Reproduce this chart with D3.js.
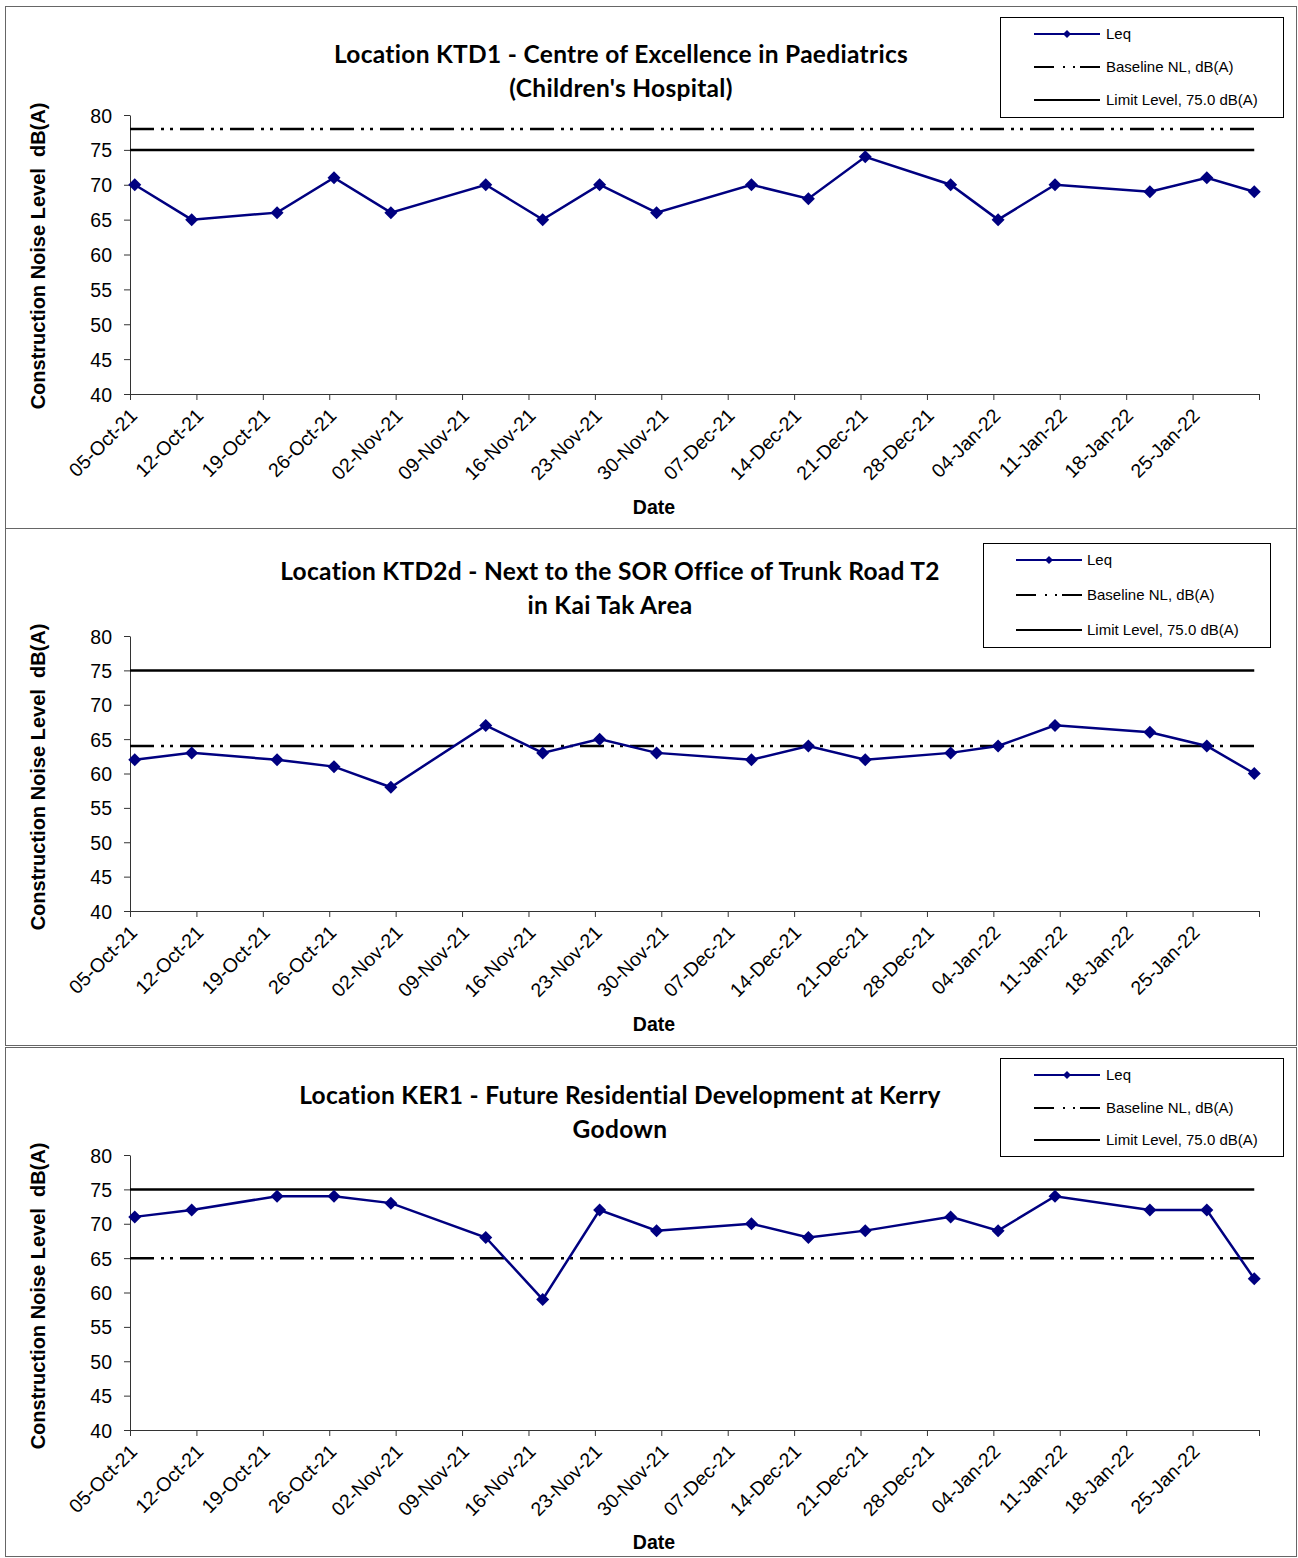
<!DOCTYPE html>
<html>
<head>
<meta charset="utf-8">
<script src="https://cdn.jsdelivr.net/npm/d3@7"></script>
<style>
  body { margin: 0; background: #fff; }
  text { font-family: "Liberation Sans", Arial, sans-serif; fill: #000; }
  .title { font-family: Lato, "Open Sans", sans-serif; font-weight: bold; font-size: 24.5px; letter-spacing: 0.3px; }
  .axis text { font-size: 19.5px; }
  .axis path, .axis line { stroke: #333; }
  .ylab { font-weight: bold; font-size: 20px; }
  .xlab { font-weight: bold; font-size: 19.5px; }
  .legend text { font-size: 15px; }
</style>
</head>
<body>
<div id="chart"></div>
<script>
// measurement dates (same for all three locations)
var surveyDates = ["05-Oct-21", "11-Oct-21", "20-Oct-21", "26-Oct-21", "01-Nov-21", "11-Nov-21",
  "17-Nov-21", "23-Nov-21", "29-Nov-21", "09-Dec-21", "15-Dec-21", "21-Dec-21",
  "30-Dec-21", "04-Jan-22", "10-Jan-22", "20-Jan-22", "26-Jan-22", "31-Jan-22"];

// Leq, dB(A)
var leqKTD1 = [70, 65, 66, 71, 66, 70, 65, 70, 66, 70, 68, 74, 70, 65, 70, 69, 71, 69];
var leqKTD2d = [62, 63, 62, 61, 58, 67, 63, 65, 63, 62, 64, 62, 63, 64, 67, 66, 64, 60];
var leqKER1 = [71, 72, 74, 74, 73, 68, 59, 72, 69, 70, 68, 69, 71, 69, 74, 72, 72, 62];

var baselineKTD1 = 78;
var baselineKTD2d = 64;
var baselineKER1 = 65;
var limitLevel = 75;

var xTickLabels = ["05-Oct-21", "12-Oct-21", "19-Oct-21", "26-Oct-21", "02-Nov-21", "09-Nov-21",
  "16-Nov-21", "23-Nov-21", "30-Nov-21", "07-Dec-21", "14-Dec-21", "21-Dec-21",
  "28-Dec-21", "04-Jan-22", "11-Jan-22", "18-Jan-22", "25-Jan-22"];
var xAxisEnd = "01-Feb-22";
var yTicks = [40, 45, 50, 55, 60, 65, 70, 75, 80];
var legendLabels = ["Leq", "Baseline NL, dB(A)", "Limit Level, 75.0 dB(A)"];

var parseDate = d3.utcParse("%d-%b-%y");
var fmtDate = d3.utcFormat("%d-%b-%y");

var svgWidth = 1298;
var svgHeight = 1558;
var plotLeft = 130, plotRight = 1259;

var svg = d3.select("#chart").append("svg")
  .attr("width", svgWidth)
  .attr("height", svgHeight);

var panels = [
  { top: 6.5, bottom: 528.5, title: ["Location KTD1 - Centre of Excellence in Paediatrics", "(Children's Hospital)"],
    titleX: 621, titleY: 63, plotTop: 115, plotBottom: 394, yLabelY: 256, dateY: 514,
    legend: { x: 1000.5, y: 17.5, w: 283, h: 100, lineX: 1034, textX: 1106, rows: [34, 67, 100] },
    leq: leqKTD1, baseline: baselineKTD1 },
  { top: 528.5, bottom: 1045.5, title: ["Location KTD2d - Next to the SOR Office of Trunk Road T2", "in Kai Tak Area"],
    titleX: 610, titleY: 580, plotTop: 636, plotBottom: 911, yLabelY: 777, dateY: 1031,
    legend: { x: 983.5, y: 543.5, w: 287, h: 104, lineX: 1016, textX: 1087, rows: [560, 595, 630] },
    leq: leqKTD2d, baseline: baselineKTD2d },
  { top: 1047.5, bottom: 1556.5, title: ["Location KER1 - Future Residential Development at Kerry", "Godown"],
    titleX: 620, titleY: 1104, plotTop: 1155, plotBottom: 1430, yLabelY: 1296, dateY: 1549,
    legend: { x: 1000.5, y: 1058.5, w: 283, h: 98, lineX: 1034, textX: 1106, rows: [1075, 1108, 1140] },
    leq: leqKER1, baseline: baselineKER1 }
];

var x = d3.scaleUtc()
  .domain([parseDate(xTickLabels[0]), parseDate(xAxisEnd)])
  .range([plotLeft, plotRight]);

var xTicks = xTickLabels.map(parseDate).concat([parseDate(xAxisEnd)]);
var halfDay = 12 * 3600 * 1000;

var diamond = "M0,-6.5L6.5,0L0,6.5L-6.5,0Z";
var baseDash = "24,7,3,6,3,7";

panels.forEach(function(p) {
  var g = svg.append("g");

  // frame
  g.append("rect")
    .attr("x", 5.5).attr("y", p.top)
    .attr("width", 1291).attr("height", p.bottom - p.top)
    .attr("fill", "none").attr("stroke", "#666").attr("stroke-width", 1);

  var y = d3.scaleLinear().domain([40, 80]).range([p.plotBottom, p.plotTop]);

  // title
  g.append("text")
    .attr("class", "title")
    .attr("text-anchor", "middle")
    .selectAll("tspan")
    .data(p.title)
    .enter()
    .append("tspan")
      .attr("x", p.titleX)
      .attr("y", function(d, i) { return p.titleY + i * 34; })
      .text(function(d) { return d; });

  // axes
  g.append("g")
    .attr("class", "axis")
    .attr("transform", `translate(${plotLeft},0)`)
    .call(d3.axisLeft(y).tickValues(yTicks).tickSize(6).tickSizeOuter(0).tickPadding(12))
    .call(function(a) { a.selectAll("text").attr("dy", "0.36em"); });

  var xAxis = g.append("g")
    .attr("class", "axis")
    .attr("transform", `translate(0,${p.plotBottom})`)
    .call(d3.axisBottom(x).tickValues(xTicks).tickSize(6).tickSizeOuter(0)
      .tickFormat(function(d) { return +d === +parseDate(xAxisEnd) ? "" : fmtDate(d); }));

  xAxis.selectAll("text")
    .attr("x", 0).attr("y", 0).attr("dy", "0.35em")
    .attr("text-anchor", "end")
    .attr("transform", "translate(3,18) rotate(-45)");

  // limit and baseline
  var lastX = x(new Date(+parseDate(surveyDates[surveyDates.length - 1]) + halfDay));
  g.append("line")
    .attr("x1", plotLeft).attr("x2", lastX)
    .attr("y1", y(limitLevel)).attr("y2", y(limitLevel))
    .attr("stroke", "#000").attr("stroke-width", 2.5);

  g.append("line")
    .attr("x1", plotLeft).attr("x2", lastX)
    .attr("y1", y(p.baseline)).attr("y2", y(p.baseline))
    .attr("stroke", "#000").attr("stroke-width", 2.5)
    .attr("stroke-dasharray", baseDash);

  // Leq series
  var pts = surveyDates.map(function(d, i) {
    return { date: new Date(+parseDate(d) + halfDay), value: p.leq[i] };
  });

  var line = d3.line()
    .x(d => x(d.date))
    .y(d => y(d.value));

  g.append("path")
    .datum(pts)
    .attr("d", line)
    .attr("fill", "none")
    .attr("stroke", "#000080")
    .attr("stroke-width", 2.5);

  g.selectAll(".pt")
    .data(pts)
    .enter()
    .append("path")
    .attr("class", "pt")
    .attr("d", diamond)
    .attr("transform", d => `translate(${x(d.date)},${y(d.value)})`)
    .attr("fill", "#000080");

  // axis titles
  g.append("text")
    .attr("class", "ylab")
    .attr("transform", `translate(38,${p.yLabelY}) rotate(-90)`)
    .attr("text-anchor", "middle")
    .attr("dominant-baseline", "central")
    .style("white-space", "pre")
    .text("Construction Noise Level  dB(A)");

  g.append("text")
    .attr("class", "xlab")
    .attr("x", 654)
    .attr("y", p.dateY)
    .attr("text-anchor", "middle")
    .text("Date");

  // legend
  var L = p.legend;
  var lg = g.append("g").attr("class", "legend");
  lg.append("rect")
    .attr("x", L.x).attr("y", L.y).attr("width", L.w).attr("height", L.h)
    .attr("fill", "#fff").attr("stroke", "#000").attr("stroke-width", 1);

  var lineW = 66;
  lg.append("line")
    .attr("x1", L.lineX).attr("x2", L.lineX + lineW)
    .attr("y1", L.rows[0]).attr("y2", L.rows[0])
    .attr("stroke", "#000080").attr("stroke-width", 2);
  lg.append("path")
    .attr("d", "M0,-4L4,0L0,4L-4,0Z")
    .attr("transform", `translate(${L.lineX + lineW / 2},${L.rows[0]})`)
    .attr("fill", "#000080");

  lg.append("line")
    .attr("x1", L.lineX).attr("x2", L.lineX + lineW)
    .attr("y1", L.rows[1]).attr("y2", L.rows[1])
    .attr("stroke", "#000").attr("stroke-width", 2)
    .attr("stroke-dasharray", "20,9,2,8,2,5,22");

  lg.append("line")
    .attr("x1", L.lineX).attr("x2", L.lineX + lineW)
    .attr("y1", L.rows[2]).attr("y2", L.rows[2])
    .attr("stroke", "#000").attr("stroke-width", 2);

  lg.selectAll(".lt")
    .data(legendLabels)
    .enter()
    .append("text")
    .attr("class", "lt")
    .attr("x", L.textX)
    .attr("y", (d, i) => L.rows[i])
    .attr("dy", "0.35em")
    .text(d => d);
});
</script>
</body>
</html>
